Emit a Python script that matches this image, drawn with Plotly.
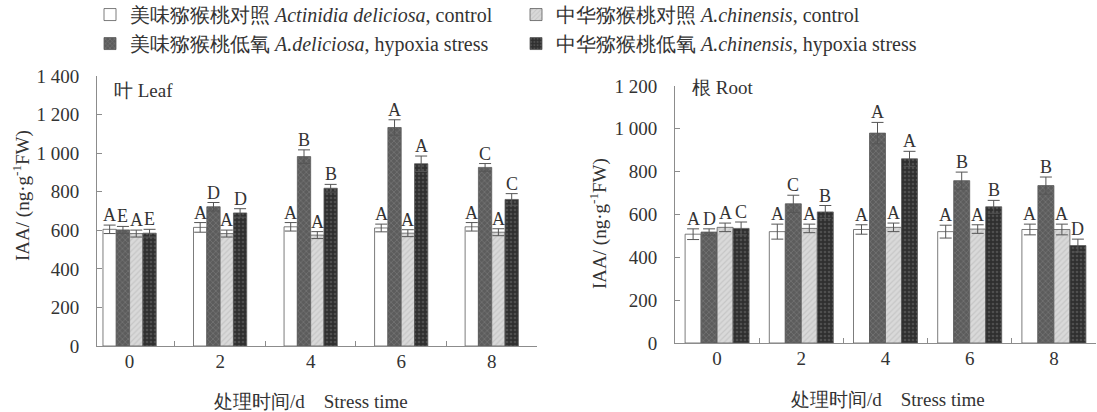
import plotly.graph_objects as go

W, H = 1097, 412

times = ["0", "2", "4", "6", "8"]
series_names = [
    "美味猕猴桃对照 <i>Actinidia deliciosa</i>, control",
    "中华猕猴桃对照 <i>A.chinensis</i>, control",
    "美味猕猴桃低氧 <i>A.deliciosa</i>, hypoxia stress",
    "中华猕猴桃低氧 <i>A.chinensis</i>, hypoxia stress",
]

# Leaf
leaf_del_ctrl = [605, 615, 618, 612, 618]
leaf_del_ctrl_err = [22, 25, 22, 20, 22]
leaf_del_hyp = [602, 722, 982, 1133, 926]
leaf_del_hyp_err = [18, 22, 35, 40, 20]
leaf_chi_ctrl = [583, 583, 575, 585, 590]
leaf_chi_ctrl_err = [18, 18, 18, 18, 18]
leaf_chi_hyp = [585, 690, 818, 945, 760]
leaf_chi_hyp_err = [20, 22, 20, 40, 30]
leaf_letters_del_ctrl = ["A", "A", "A", "A", "A"]
leaf_letters_del_hyp = ["E", "D", "B", "A", "C"]
leaf_letters_chi_ctrl = ["A", "A", "A", "A", "A"]
leaf_letters_chi_hyp = ["E", "D", "B", "A", "C"]

# Root
root_del_ctrl = [508, 520, 530, 520, 530]
root_del_ctrl_err = [25, 35, 22, 30, 25]
root_del_hyp = [518, 650, 980, 758, 735]
root_del_hyp_err = [15, 40, 50, 40, 40]
root_chi_ctrl = [540, 535, 540, 532, 530]
root_chi_ctrl_err = [20, 20, 20, 20, 25]
root_chi_hyp = [535, 612, 860, 636, 455]
root_chi_hyp_err = [30, 30, 35, 30, 30]
root_letters_del_ctrl = ["A", "A", "A", "A", "A"]
root_letters_del_hyp = ["D", "C", "A", "B", "B"]
root_letters_chi_ctrl = ["A", "A", "A", "A", "A"]
root_letters_chi_hyp = ["C", "B", "A", "B", "D"]

leaf_yticks = [0, 200, 400, 600, 800, 1000, 1200, 1400]
leaf_yticktext = ["0", "200", "400", "600", "800", "1 000", "1 200", "1 400"]
root_yticks = [0, 200, 400, 600, 800, 1000, 1200]
root_yticktext = ["0", "200", "400", "600", "800", "1 000", "1 200"]

FONT = "Liberation Serif"
TXT = "#333333"
AXC = "#8c8c8c"

# order in group: del ctrl, del hyp, chi ctrl, chi hyp
styles = [
    dict(color="#ffffff", pattern=dict(shape="")),
    dict(color="#5c5c5c", pattern=dict(shape="x", fgcolor="#8e8e8e", size=4, solidity=0.35)),
    dict(color="#d9d9d9", pattern=dict(shape="/", fgcolor="#b3b3b3", size=4, solidity=0.3)),
    dict(color="#2f2f2f", pattern=dict(shape=".", fgcolor="#707070", size=4, solidity=0.35)),
]
legend_idx = [0, 2, 1, 3]

fig = go.Figure()
xs = list(range(len(times)))

panels = [
    ("x", "y", 0.147,
     [leaf_del_ctrl, leaf_del_hyp, leaf_chi_ctrl, leaf_chi_hyp],
     [leaf_del_ctrl_err, leaf_del_hyp_err, leaf_chi_ctrl_err, leaf_chi_hyp_err],
     [leaf_letters_del_ctrl, leaf_letters_del_hyp, leaf_letters_chi_ctrl, leaf_letters_chi_hyp], True),
    ("x2", "y2", 0.19,
     [root_del_ctrl, root_del_hyp, root_chi_ctrl, root_chi_hyp],
     [root_del_ctrl_err, root_del_hyp_err, root_chi_ctrl_err, root_chi_hyp_err],
     [root_letters_del_ctrl, root_letters_del_hyp, root_letters_chi_ctrl, root_letters_chi_hyp], False),
]
name_order = [series_names[0], series_names[2], series_names[1], series_names[3]]

annotations = []
for xa, ya, w, vals, errs, letters, showleg in panels:
    for i in range(4):
        off = -2 * w + i * w
        fig.add_trace(go.Bar(
            x=xs, y=vals[i], width=w, offset=off,
            xaxis=xa, yaxis=ya,
            name=name_order[i], showlegend=showleg,
            legendrank=legend_idx[i],
            marker=dict(color=styles[i]["color"], pattern=styles[i]["pattern"],
                        line=dict(color="#5a5a5a", width=0.8)),
            error_y=dict(type="data", array=errs[i], color="#555555", thickness=1, width=6),
        ))
        for j in xs:
            annotations.append(dict(
                x=j + off + w / 2, y=vals[i][j] + errs[i][j], xref=xa, yref=ya,
                text=letters[i][j], showarrow=False, xanchor="center", yanchor="bottom", yshift=-2,
                font=dict(family=FONT, size=18, color=TXT),
            ))

def px_x(p):
    return p / W

def px_y(p):
    return 1 - p / H

axis_common = dict(showline=True, linecolor=AXC, linewidth=1, showgrid=False, zeroline=False,
                   automargin=False, tickfont=dict(family=FONT, size=19, color=TXT))

fig.update_layout(
    width=W, height=H, autosize=False,
    margin=dict(l=0, r=0, t=0, b=0, autoexpand=False),
    paper_bgcolor="white", plot_bgcolor="white",
    barmode="overlay",
    font=dict(family=FONT, size=19, color=TXT),
    xaxis=dict(domain=[px_x(97), px_x(537)], range=[-0.36, 4.5], anchor="y",
               tickmode="array", tickvals=xs, ticktext=times, ticks="",
               minor=dict(ticks="inside", tickmode="array", tickvals=[0.5, 1.5, 2.5, 3.5],
                          ticklen=5, tickcolor=AXC),
               ticklabelstandoff=-2, **axis_common),
    yaxis=dict(domain=[px_y(346), px_y(76)], range=[0, 1400], anchor="x",
               tickmode="array", tickvals=leaf_yticks, ticktext=leaf_yticktext,
               ticks="inside", ticklen=5, tickcolor=AXC, ticklabelstandoff=13, **axis_common),
    xaxis2=dict(domain=[px_x(675), px_x(1096)], range=[-0.5, 4.5], anchor="y2",
                tickmode="array", tickvals=xs, ticktext=times, ticks="",
                minor=dict(ticks="inside", tickmode="array", tickvals=[0.5, 1.5, 2.5, 3.5],
                           ticklen=5, tickcolor=AXC),
                ticklabelstandoff=-2, **axis_common),
    yaxis2=dict(domain=[px_y(343), px_y(86)], range=[0, 1200], anchor="x2",
                tickmode="array", tickvals=root_yticks, ticktext=root_yticktext,
                ticks="inside", ticklen=5, tickcolor=AXC, ticklabelstandoff=13, **axis_common),
    legend=dict(orientation="h", x=px_x(90), y=1.012, xanchor="left", yanchor="top",
                entrywidth=381, entrywidthmode="pixels", traceorder="normal",
                font=dict(family=FONT, size=20, color=TXT), bgcolor="rgba(0,0,0,0)",
                itemwidth=30),
)

annotations += [
    dict(x=px_x(21), y=px_y(196), xref="paper", yref="paper", text="IAA/ (ng·g<sup>-1</sup>FW)",
         textangle=-90, showarrow=False, xanchor="center", yanchor="middle",
         font=dict(family=FONT, size=19, color=TXT)),
    dict(x=px_x(598), y=px_y(224), xref="paper", yref="paper", text="IAA/ (ng·g<sup>-1</sup>FW)",
         textangle=-90, showarrow=False, xanchor="center", yanchor="middle",
         font=dict(family=FONT, size=19, color=TXT)),
    dict(x=px_x(311), y=px_y(401), xref="paper", yref="paper",
         text="处理时间/d&nbsp;&nbsp;&nbsp;&nbsp;Stress time", xanchor="center", yanchor="middle",
         showarrow=False, font=dict(family=FONT, size=19, color=TXT)),
    dict(x=px_x(888), y=px_y(399), xref="paper", yref="paper",
         text="处理时间/d&nbsp;&nbsp;&nbsp;&nbsp;Stress time", xanchor="center", yanchor="middle",
         showarrow=False, font=dict(family=FONT, size=19, color=TXT)),
    dict(x=px_x(112), y=px_y(90), xref="paper", yref="paper", text="叶 Leaf", xanchor="left",
         yanchor="middle", showarrow=False, font=dict(family=FONT, size=19, color=TXT)),
    dict(x=px_x(690), y=px_y(87), xref="paper", yref="paper", text="根 Root", xanchor="left",
         yanchor="middle", showarrow=False, font=dict(family=FONT, size=19, color=TXT)),
]
fig.update_layout(annotations=annotations)

fig.write_html("out.html")
